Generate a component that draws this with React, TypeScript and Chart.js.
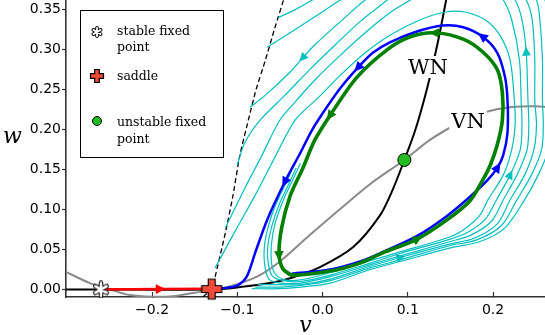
import React, { useEffect, useRef } from 'react';
import { Chart, registerables } from 'chart.js';

Chart.register(...registerables);

type P = [number, number];

// ---- axes ----
const xRange: P = [-0.301, 0.261];
const yRange: P = [-0.0094, 0.362];
const xTickValues = [-0.2, -0.1, 0.0, 0.1, 0.2];
const yTickValues = [0.0, 0.05, 0.1, 0.15, 0.2, 0.25, 0.3, 0.35];
const axisTitles = ['v', 'w'];

// ---- fixed points ----
const stablePoint: P[] = [[-0.26, 0.0]];
const saddlePoint: P[] = [[-0.13, 0.0005]];
const unstablePoint: P[] = [[0.096, 0.162]];

// ---- nullclines ----
const vNullcline: P[] = [
  [-0.301, 0.022], [-0.273, 0.008], [-0.249, 0.0], [-0.226, -0.007], [-0.2, -0.009],
  [-0.173, -0.008], [-0.144, -0.003], [-0.13, 0.0], [-0.111, 0.003], [-0.077, 0.016],
  [-0.05, 0.035], [-0.015, 0.068], [0.021, 0.101], [0.056, 0.132], [0.096, 0.162],
  [0.126, 0.187], [0.156, 0.206], [0.185, 0.22], [0.214, 0.227], [0.244, 0.229], [0.267, 0.228],
];
const wNullcline: P[] = [
  [-0.301, 0.0], [-0.13, 0.0], [-0.097, 0.003], [-0.062, 0.008], [-0.038, 0.014],
  [-0.003, 0.028], [0.036, 0.053], [0.067, 0.092], [0.082, 0.124], [0.096, 0.162],
  [0.109, 0.2], [0.123, 0.253], [0.135, 0.308], [0.145, 0.362], [0.148, 0.381],
];

// ---- manifolds ----
const stableManifold: P[] = [
  [-0.14, -0.009], [-0.13, 0.001], [-0.126, 0.016], [-0.114, 0.071], [-0.105, 0.118],
  [-0.097, 0.168], [-0.087, 0.212], [-0.078, 0.25], [-0.067, 0.287], [-0.056, 0.327], [-0.044, 0.368],
];
const redBranch: P[] = [[-0.26, 0.0], [-0.191, 0.0005], [-0.13, 0.001]];
const blueOrbit: P[] = [
  [-0.036, 0.02], [0.009, 0.025], [0.044, 0.035], [0.071, 0.047], [0.111, 0.067],
  [0.146, 0.092], [0.173, 0.116], [0.193, 0.136], [0.205, 0.152], [0.212, 0.168],
  [0.217, 0.196], [0.217, 0.237], [0.214, 0.266], [0.205, 0.296], [0.188, 0.316],
  [0.165, 0.328], [0.141, 0.33], [0.109, 0.322], [0.079, 0.309], [0.059, 0.296],
  [0.042, 0.278], [0.021, 0.252], [0.005, 0.228], [-0.012, 0.2], [-0.026, 0.171],
  [-0.044, 0.135], [-0.065, 0.087], [-0.079, 0.046], [-0.089, 0.016], [-0.1, 0.005],
  [-0.114, 0.002], [-0.13, 0.001],
];
const limitCycle: P[] = [
  [-0.046, 0.025], [-0.036, 0.018], [0.009, 0.023], [0.044, 0.033], [0.071, 0.046],
  [0.111, 0.063], [0.146, 0.087], [0.173, 0.111], [0.188, 0.137], [0.197, 0.156],
  [0.205, 0.181], [0.211, 0.212], [0.211, 0.246], [0.205, 0.275], [0.188, 0.297],
  [0.165, 0.313], [0.132, 0.321], [0.103, 0.316], [0.076, 0.3], [0.04, 0.265],
  [0.009, 0.218], [-0.009, 0.187], [-0.023, 0.152], [-0.038, 0.117], [-0.048, 0.077],
  [-0.051, 0.043], [-0.046, 0.025], [-0.036, 0.018],
];

// ---- trajectories (cyan) ----
const cyan1: P[] = [
  [-0.026, 0.158], [-0.035, 0.137], [-0.046, 0.112], [-0.056, 0.081], [-0.06, 0.056], [-0.06, 0.035],
  [-0.056, 0.02], [-0.044, 0.012], [-0.026, 0.012], [0.009, 0.021], [0.056, 0.036], [0.091, 0.047],
  [0.15, 0.066], [0.167, 0.076], [0.184, 0.092], [0.194, 0.112], [0.212, 0.143], [0.222, 0.175],
  [0.226, 0.206], [0.225, 0.237], [0.22, 0.287], [0.208, 0.318], [0.191, 0.337], [0.167, 0.347],
  [0.144, 0.347], [0.114, 0.337], [0.079, 0.318], [0.05, 0.296], [0.021, 0.268], [-0.005, 0.24],
  [-0.032, 0.212], [-0.056, 0.165], [-0.079, 0.118], [-0.103, 0.072], [-0.126, 0.027],
];
const cyan2: P[] = [
  [-0.031, 0.152], [-0.04, 0.131], [-0.051, 0.106], [-0.059, 0.081], [-0.064, 0.056], [-0.064, 0.035],
  [-0.059, 0.017], [-0.046, 0.011], [-0.026, 0.01], [0.009, 0.018], [0.056, 0.033], [0.091, 0.045],
  [0.15, 0.063], [0.171, 0.072], [0.191, 0.088], [0.204, 0.112], [0.22, 0.143], [0.232, 0.175],
  [0.234, 0.206], [0.233, 0.237], [0.231, 0.287], [0.222, 0.337], [0.212, 0.362], [0.197, 0.377],
  [0.161, 0.387], [0.126, 0.377], [0.103, 0.362], [0.079, 0.346], [0.05, 0.321], [0.021, 0.293],
  [-0.009, 0.262], [-0.03, 0.237], [-0.05, 0.212], [-0.071, 0.168], [-0.091, 0.127], [-0.114, 0.077],
];
const cyan3: P[] = [
  [-0.036, 0.15], [-0.044, 0.131], [-0.055, 0.106], [-0.063, 0.081], [-0.068, 0.056], [-0.068, 0.032],
  [-0.063, 0.013], [-0.049, 0.008], [-0.026, 0.008], [0.009, 0.016], [0.056, 0.031], [0.091, 0.042],
  [0.15, 0.06], [0.174, 0.068], [0.198, 0.085], [0.212, 0.112], [0.228, 0.143], [0.24, 0.175],
  [0.242, 0.206], [0.241, 0.237], [0.239, 0.297], [0.234, 0.337], [0.226, 0.362], [0.208, 0.384],
  [0.173, 0.397], [0.126, 0.39], [0.091, 0.375], [0.076, 0.362], [0.044, 0.335], [0.015, 0.306],
  [-0.015, 0.275], [-0.044, 0.243], [-0.073, 0.212], [-0.091, 0.184], [-0.1, 0.156],
];
const cyan4: P[] = [
  [-0.076, 0.006], [-0.05, 0.006], [-0.026, 0.006], [0.009, 0.013], [0.056, 0.029], [0.091, 0.04],
  [0.15, 0.057], [0.178, 0.064], [0.205, 0.082], [0.22, 0.112], [0.237, 0.143], [0.248, 0.175],
  [0.251, 0.206], [0.249, 0.237], [0.249, 0.287], [0.246, 0.337], [0.239, 0.362], [0.22, 0.39],
  [0.179, 0.406], [0.126, 0.4], [0.079, 0.381], [0.05, 0.362], [0.021, 0.335], [-0.009, 0.306],
  [-0.023, 0.29], [-0.038, 0.272], [-0.067, 0.243], [-0.085, 0.228],
];
const cyan5: P[] = [
  [-0.079, 0.003], [-0.05, 0.003], [-0.026, 0.005], [0.009, 0.011], [0.056, 0.027], [0.091, 0.037],
  [0.15, 0.055], [0.181, 0.062], [0.21, 0.08], [0.228, 0.112], [0.245, 0.143], [0.257, 0.175],
  [0.259, 0.206], [0.258, 0.237], [0.258, 0.287], [0.255, 0.337], [0.251, 0.362], [0.232, 0.393],
  [0.185, 0.412], [0.126, 0.41], [0.067, 0.39], [0.021, 0.362], [-0.009, 0.341], [-0.038, 0.321],
  [-0.065, 0.303],
];
const cyan6: P[] = [
  [-0.083, 0.001], [-0.05, 0.001], [-0.026, 0.003], [0.009, 0.008], [0.056, 0.025], [0.091, 0.035],
  [0.15, 0.052], [0.185, 0.06], [0.214, 0.077], [0.237, 0.112], [0.253, 0.143], [0.265, 0.175],
  [0.267, 0.206], [0.266, 0.237], [0.266, 0.287], [0.264, 0.337], [0.261, 0.362], [0.244, 0.4],
  [0.185, 0.418], [0.114, 0.415], [0.044, 0.393], [-0.012, 0.362], [-0.032, 0.35], [-0.052, 0.34],
];

// arrow positions (point indices along each curve)
const arrowsGreen = [5, 16, 20, 25];
const arrowsBlue = [8, 14, 20, 25];
const arrowsRed = [1];
const arrowsCyan2 = [16];
const arrowsCyan3 = [20];
const arrowsCyan4 = [5, 24];

// text
const curveLabels = ['WN', 'VN'];
const legendLabels = [['stable fixed', 'point'], ['saddle'], ['unstable fixed', 'point']];

const toXY = (pts: P[]) => pts.map(([x, y]) => ({ x, y }));

function plusPath(g: CanvasRenderingContext2D, cx: number, cy: number, s: number, t: number) {
  g.beginPath();
  g.moveTo(cx - t, cy - s); g.lineTo(cx + t, cy - s); g.lineTo(cx + t, cy - t);
  g.lineTo(cx + s, cy - t); g.lineTo(cx + s, cy + t); g.lineTo(cx + t, cy + t);
  g.lineTo(cx + t, cy + s); g.lineTo(cx - t, cy + s); g.lineTo(cx - t, cy + t);
  g.lineTo(cx - s, cy + t); g.lineTo(cx - s, cy - t); g.lineTo(cx - t, cy - t);
  g.closePath();
}
function drawPlus(g: CanvasRenderingContext2D, cx: number, cy: number, s: number, t: number) {
  plusPath(g, cx, cy, s, t);
  g.fillStyle = '#f04a3a';
  g.fill();
  g.lineWidth = 1.2;
  g.strokeStyle = '#000';
  g.stroke();
}
function drawStar(g: CanvasRenderingContext2D, cx: number, cy: number, r: number, wo: number, wi: number) {
  g.save();
  g.lineCap = 'round';
  const passes: [number, string][] = [[wo, '#000'], [wi, '#fff']];
  for (const [lw, col] of passes) {
    g.lineWidth = lw;
    g.strokeStyle = col;
    g.beginPath();
    for (let k = 0; k < 3; k++) {
      const a = Math.PI / 2 + (k * Math.PI) / 3;
      g.moveTo(cx - r * Math.cos(a), cy - r * Math.sin(a));
      g.lineTo(cx + r * Math.cos(a), cy + r * Math.sin(a));
    }
    g.stroke();
  }
  g.restore();
}
function drawCircle(g: CanvasRenderingContext2D, cx: number, cy: number, r: number) {
  g.beginPath();
  g.arc(cx, cy, r, 0, Math.PI * 2);
  g.fillStyle = '#22bb22';
  g.fill();
  g.lineWidth = 1;
  g.strokeStyle = '#000';
  g.stroke();
}

const arrowPlugin = {
  id: 'flowArrows',
  afterDatasetsDraw(chart: any) {
    const ctx = chart.ctx as CanvasRenderingContext2D;
    const xs = chart.scales.x;
    const ys = chart.scales.y;
    chart.data.datasets.forEach((ds: any) => {
      if (!ds.arrowAt) return;
      const pts = ds.data;
      ds.arrowAt.forEach((i: number) => {
        const p = pts[i];
        const a = pts[Math.max(0, i - 1)];
        const b = pts[Math.min(pts.length - 1, i + 1)];
        const px = xs.getPixelForValue(p.x);
        const py = ys.getPixelForValue(p.y);
        const dx = xs.getPixelForValue(b.x) - xs.getPixelForValue(a.x);
        const dy = ys.getPixelForValue(b.y) - ys.getPixelForValue(a.y);
        const ang = Math.atan2(dy, dx);
        const L = ds.arrowSize || 8;
        const W = L * 0.48;
        ctx.save();
        ctx.translate(px, py);
        ctx.rotate(ang);
        ctx.beginPath();
        ctx.moveTo(L * 0.6, 0);
        ctx.lineTo(-L * 0.4, W);
        ctx.lineTo(-L * 0.4, -W);
        ctx.closePath();
        ctx.fillStyle = ds.borderColor;
        ctx.fill();
        ctx.restore();
      });
    });
  },
};

const textPlugin = {
  id: 'textDecor',
  afterDraw(chart: any) {
    const ctx = chart.ctx as CanvasRenderingContext2D;
    ctx.save();
    // curve labels with white boxes
    ctx.font = '21px "DejaVu Serif"';
    ctx.textAlign = 'center';
    ctx.textBaseline = 'alphabetic';
    const labelPos: [number, number][] = [[428, 74], [468, 128]];
    curveLabels.forEach((t, i) => {
      const [x, y] = labelPos[i];
      const w = ctx.measureText(t).width;
      ctx.fillStyle = '#fff';
      ctx.fillRect(x - w / 2 - 2, y - 18, w + 4, 22);
      ctx.fillStyle = '#000';
      ctx.fillText(t, x, y);
    });

    // legend
    ctx.fillStyle = '#fff';
    ctx.fillRect(80, 10, 144, 148);
    ctx.lineWidth = 1;
    ctx.strokeStyle = '#000';
    ctx.strokeRect(80.5, 10.5, 143, 147);
    drawStar(ctx, 97, 32, 4.2, 3.6, 1.8);
    drawPlus(ctx, 97, 76, 6.5, 2.3);
    drawCircle(ctx, 97, 121, 4.5);
    ctx.font = '12.5px "DejaVu Serif"';
    ctx.textAlign = 'left';
    ctx.fillStyle = '#000';
    const baselines = [[35, 51], [80], [126, 142.5]];
    legendLabels.forEach((lines, i) => {
      lines.forEach((ln, j) => ctx.fillText(ln, 117, baselines[i][j]));
    });

    // axis titles
    ctx.font = 'italic 22px "DejaVu Serif"';
    ctx.textAlign = 'center';
    ctx.fillText(axisTitles[0], (chart.chartArea.left + chart.chartArea.right) / 2, 332);
    ctx.fillText(axisTitles[1], 12.5, 143);
    ctx.restore();
  },
};

export default function App() {
  const ref = useRef<HTMLCanvasElement>(null);
  useEffect(() => {
    const canvas = ref.current;
    if (!canvas) return;

    const starImg = document.createElement('canvas');
    starImg.width = 18; starImg.height = 18;
    drawStar(starImg.getContext('2d')!, 9, 9, 6.5, 4.6, 2.6);
    const plusImg = document.createElement('canvas');
    plusImg.width = 24; plusImg.height = 24;
    drawPlus(plusImg.getContext('2d')!, 12, 12, 10, 3.5);

    const line = (pts: P[], color: string, width: number, order: number, extra: any = {}) => ({
      type: 'scatter',
      data: toXY(pts),
      showLine: true,
      borderColor: color,
      backgroundColor: color,
      borderWidth: width,
      pointRadius: 0,
      pointHoverRadius: 0,
      tension: 0.3,
      order,
      ...extra,
    });

    const chart = new Chart(canvas, {
      type: 'scatter',
      data: {
        datasets: [
          { type: 'scatter', data: toXY(stablePoint), pointStyle: starImg as any, pointRadius: 9, order: 0, clip: false } as any,
          { type: 'scatter', data: toXY(saddlePoint), pointStyle: plusImg as any, pointRadius: 12, order: 0, clip: false } as any,
          {
            type: 'scatter', data: toXY(unstablePoint), pointStyle: 'circle', pointRadius: 6.5,
            pointBackgroundColor: '#22bb22', backgroundColor: '#22bb22', pointBorderColor: '#000', borderColor: '#000',
            pointBorderWidth: 1, borderWidth: 1, order: 0, clip: false,
          } as any,
          line(limitCycle, '#008000', 3.6, 1, { arrowAt: arrowsGreen, arrowSize: 10 }),
          line(blueOrbit, '#0000ff', 2.5, 2, { arrowAt: arrowsBlue, arrowSize: 10 }),
          line(redBranch, '#ff0000', 2.5, 3, { arrowAt: arrowsRed, arrowSize: 10, tension: 0 }),
          line(cyan1, '#00bfbf', 1.2, 4),
          line(cyan2, '#00bfbf', 1.2, 4, { arrowAt: arrowsCyan2, arrowSize: 9 }),
          line(cyan3, '#00bfbf', 1.2, 4, { arrowAt: arrowsCyan3, arrowSize: 9 }),
          line(cyan4, '#00bfbf', 1.2, 4, { arrowAt: arrowsCyan4, arrowSize: 9 }),
          line(cyan5, '#00bfbf', 1.2, 4),
          line(cyan6, '#00bfbf', 1.2, 4),
          line(wNullcline, '#000000', 2, 5),
          line(stableManifold, '#000000', 1.3, 6, { borderDash: [5, 3], tension: 0.2 }),
          line(vNullcline, '#8a8a8a', 2, 7),
        ] as any,
      },
      options: {
        responsive: false,
        animation: false,
        events: [],
        layout: { padding: 0, autoPadding: false },
        plugins: { legend: { display: false }, tooltip: { enabled: false } },
        scales: {
          x: {
            type: 'linear',
            position: 'bottom',
            min: xRange[0],
            max: xRange[1],
            afterBuildTicks: (s: any) => { s.ticks = xTickValues.map((v) => ({ value: v })); },
            afterFit: (s: any) => { s.height = 38; s.paddingLeft = 0; s.paddingRight = 0; },
            grid: { display: true, drawOnChartArea: false, drawTicks: true, tickLength: -5, tickColor: '#333', tickWidth: 1.2 },
            border: { display: true, color: '#333', width: 1.6 },
            ticks: {
              color: '#000',
              font: { family: 'DejaVu Sans', size: 14 },
              padding: 10,
              maxRotation: 0,
              autoSkip: false,
              callback: (v: any) => {
                const n = Number(v);
                return (n < -1e-9 ? '\u2212' : '') + Math.abs(n).toFixed(1);
              },
            },
          },
          y: {
            type: 'linear',
            position: 'left',
            min: yRange[0],
            max: yRange[1],
            afterBuildTicks: (s: any) => { s.ticks = yTickValues.map((v) => ({ value: v })); },
            afterFit: (s: any) => { s.width = 66; s.paddingTop = 0; s.paddingBottom = 0; },
            grid: { display: true, drawOnChartArea: false, drawTicks: true, tickLength: 4, tickColor: '#333', tickWidth: 1.2 },
            border: { display: true, color: '#333', width: 1.6 },
            ticks: {
              color: '#000',
              font: { family: 'DejaVu Sans', size: 14 },
              padding: 1,
              autoSkip: false,
              callback: (v: any) => Number(v).toFixed(2),
            },
          },
        },
      } as any,
      plugins: [arrowPlugin, textPlugin],
    });
    return () => chart.destroy();
  }, []);

  return (
    <div style={{ position: 'absolute', left: 0, top: 0, width: 545, height: 335, background: '#fff' }}>
      <canvas ref={ref} width={545} height={335} style={{ display: 'block' }} />
    </div>
  );
}
